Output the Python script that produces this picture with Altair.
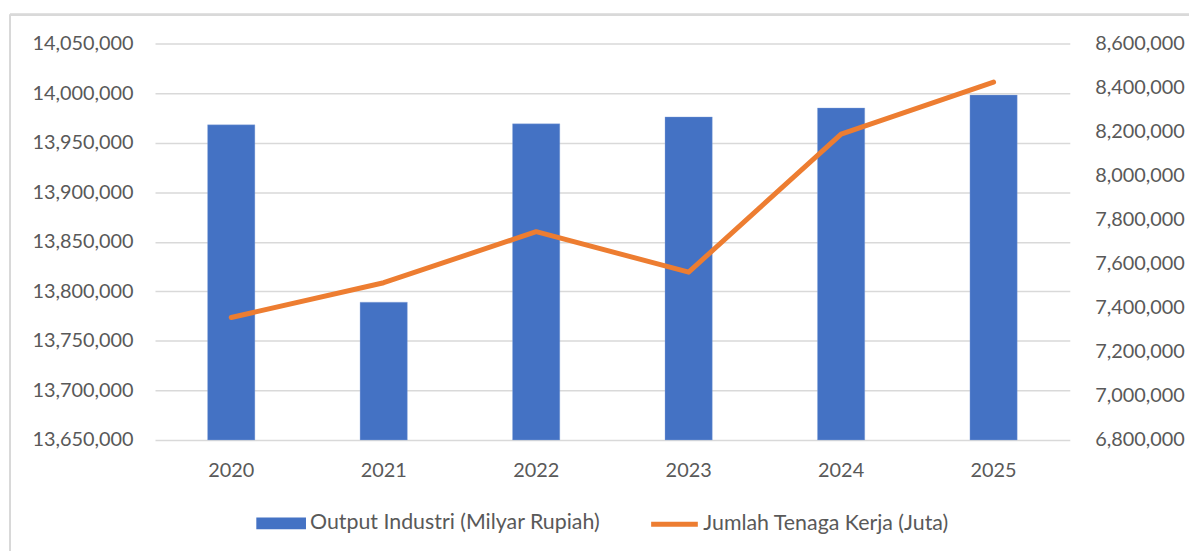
import altair as alt
import pandas as pd

years = ["2020", "2021", "2022", "2023", "2024", "2025"]
output_industri = [13968000, 13789000, 13969000, 13976000, 13985000, 13998000]
tenaga_kerja = [7356000, 7514000, 7746000, 7562000, 8189000, 8425000]
left_ticks = [13650000, 13700000, 13750000, 13800000, 13850000, 13900000, 13950000, 14000000, 14050000]
right_ticks = [6800000, 7000000, 7200000, 7400000, 7600000, 7800000, 8000000, 8200000, 8400000, 8600000]
bar_name = "Output Industri (Milyar Rupiah)"
line_name = "Jumlah Tenaga Kerja (Juta)"

df = pd.DataFrame({
    "year": years,
    "output": output_industri,
    "tenaga": tenaga_kerja,
    "bar_series": [bar_name] * len(years),
    "line_series": [line_name] * len(years),
})

FONT = "Lato"
GREY = "#595959"
THOUSANDS = "replace('' + datum.value, regexp('\\\\B(?=(\\\\d{3})+(?!\\\\d))', 'g'), ',')"

x_enc = alt.X("year:N", title=None, sort=years,
              scale=alt.Scale(paddingInner=0.69, paddingOuter=0.345),
              axis=alt.Axis(labelAngle=0, labelPadding=21, domain=False, ticks=False))

bars = alt.Chart(df).mark_bar(stroke="#8faadc", strokeWidth=0.6, strokeOpacity=0.6).encode(
    x=x_enc,
    y=alt.Y("output:Q", title=None,
            scale=alt.Scale(domain=[13650000, 14050000], zero=False, nice=False, clamp=True),
            axis=alt.Axis(values=left_ticks, labelExpr=THOUSANDS, labelPadding=22, grid=True,
                          gridColor="#d9d9d9", gridWidth=1.5, orient="left",
                          domain=False, ticks=False)),
    color=alt.Color("bar_series:N", title=None,
                    scale=alt.Scale(domain=[bar_name], range=["#4472C4"]),
                    legend=alt.Legend(orient="none", legendX=102, legendY=458,
                                      symbolType="M-1,-0.24H1V0.24H-1Z", symbolSize=2500,
                                      symbolStrokeWidth=0, labelOffset=4, padding=0,
                                      labelLimit=1000, labelFontSize=21.5)),
)

line = alt.Chart(df).mark_line(strokeWidth=5, strokeCap="round", strokeJoin="round").encode(
    x=x_enc,
    y=alt.Y("tenaga:Q", title=None,
            scale=alt.Scale(domain=[6800000, 8600000], zero=False, nice=False),
            axis=alt.Axis(values=right_ticks, labelExpr=THOUSANDS, labelPadding=25, grid=False,
                          orient="right", domain=False, ticks=False)),
    stroke=alt.Stroke("line_series:N", title=None,
                      scale=alt.Scale(domain=[line_name], range=["#ED7D31"]),
                      legend=alt.Legend(orient="none", legendX=497, legendY=458,
                                        symbolType="stroke", symbolSize=2209,
                                        symbolStrokeWidth=5, labelOffset=3, padding=0,
                                        labelLimit=1000, labelFontSize=21.5)),
)

frame_left = alt.Chart(df).mark_rule(color="#d9d9d9", strokeWidth=2).encode(
    x=alt.value(-146), y=alt.value(-29), y2=alt.value(520))
frame_top = alt.Chart(df).mark_rule(color="#d9d9d9", strokeWidth=2).encode(
    x=alt.value(-146), x2=alt.value(1100), y=alt.value(-29))

chart = alt.layer(frame_left, frame_top, bars, line).resolve_scale(
    y="independent", color="independent", stroke="independent"
).properties(
    width=921, height=399,
    background="white",
    autosize=alt.AutoSizeParams(type="none"),
    padding={"left": 148, "top": 34, "right": 120, "bottom": 110},
).configure_view(stroke=None).configure_axis(
    labelFont=FONT, labelFontSize=20, labelColor=GREY, domain=False, ticks=False
).configure_legend(
    labelFont=FONT, labelFontSize=20, labelColor=GREY
)

chart.save("out.html", embed_options={"renderer": "svg", "actions": False})
